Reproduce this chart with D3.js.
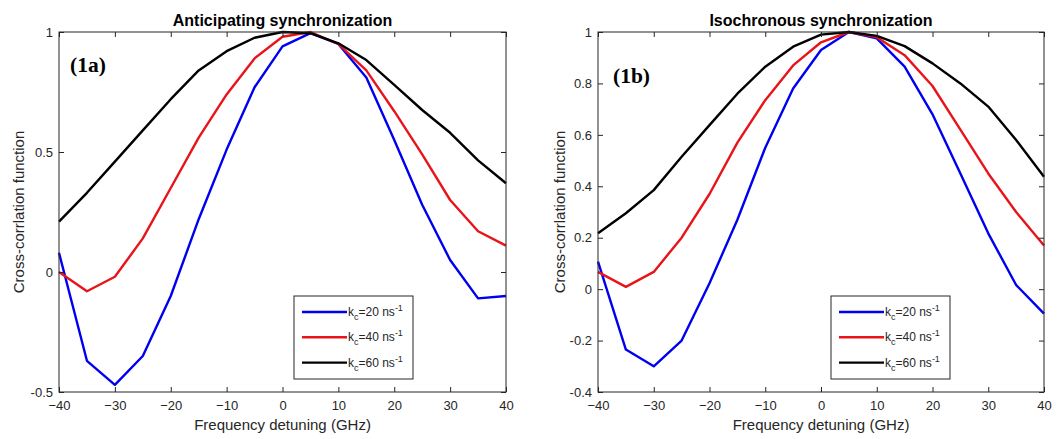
<!DOCTYPE html>
<html>
<head>
<meta charset="utf-8">
<script src="https://cdn.jsdelivr.net/npm/d3@7"></script>
<style>
  html, body { margin: 0; padding: 0; background: #fff; }
  svg { display: block; font-family: "Liberation Sans", Arial, sans-serif; }
</style>
</head>
<body>
<svg id="chart" width="1062" height="439"></svg>
<script>
'use strict';

// frequency detuning (GHz)
const detuning = [-40, -35, -30, -25, -20, -15, -10, -5, 0, 5, 10, 15, 20, 25, 30, 35, 40];

// (1a) anticipating synchronization
const antic20 = [0.08, -0.37, -0.47, -0.35, -0.10, 0.22, 0.51, 0.77, 0.94, 0.995, 0.95, 0.81, 0.55, 0.28, 0.05, -0.11, -0.10];
const antic40 = [0.00, -0.08, -0.02, 0.14, 0.35, 0.56, 0.74, 0.89, 0.98, 1.00, 0.95, 0.84, 0.67, 0.49, 0.30, 0.17, 0.11];
const antic60 = [0.21, 0.33, 0.46, 0.59, 0.72, 0.84, 0.92, 0.976, 1.00, 0.995, 0.953, 0.883, 0.78, 0.675, 0.58, 0.465, 0.37];

// (1b) isochronous synchronization
const iso20 = [0.107, -0.235, -0.30, -0.20, 0.023, 0.27, 0.55, 0.78, 0.93, 1.00, 0.975, 0.865, 0.68, 0.45, 0.217, 0.016, -0.095];
const iso40 = [0.067, 0.009, 0.067, 0.20, 0.37, 0.57, 0.735, 0.87, 0.96, 1.00, 0.98, 0.91, 0.79, 0.62, 0.45, 0.30, 0.17];
const iso60 = [0.217, 0.295, 0.385, 0.515, 0.638, 0.76, 0.865, 0.943, 0.99, 1.00, 0.985, 0.945, 0.878, 0.80, 0.71, 0.58, 0.437];

const xTicks = [-40, -30, -20, -10, 0, 10, 20, 30, 40];
const yTicksA = [-0.5, 0, 0.5, 1];
const yTicksB = [-0.4, -0.2, 0, 0.2, 0.4, 0.6, 0.8, 1];
const couplings = ['20', '40', '60'];
const seriesColors = ['#0000f0', '#e8141a', '#000000'];

const axisColor = '#262626';
const svg = d3.select('#chart');

function drawPanel(opts) {
  const x = d3.scaleLinear().domain([-40, 40]).range([opts.left, opts.right]);
  const y = d3.scaleLinear().domain(opts.yDomain).range([opts.bottom, opts.top]);
  const g = svg.append('g');
  const tickLen = 5;

  // series lines
  const line = d3.line()
    .x(function (d) { return x(d[0]); })
    .y(function (d) { return y(d[1]); });
  opts.series.forEach(function (vals, i) {
    g.append('path')
      .datum(detuning.map(function (f, j) { return [f, vals[j]]; }))
      .attr('fill', 'none')
      .attr('stroke', seriesColors[i])
      .attr('stroke-width', 2.4)
      .attr('stroke-linejoin', 'round')
      .attr('d', line);
  });

  // axes: ticks pointing inward on all four sides
  g.append('g')
    .attr('transform', 'translate(0,' + opts.bottom + ')')
    .call(d3.axisBottom(x).tickValues(xTicks).tickSizeInner(-tickLen).tickSizeOuter(0).tickPadding(9).tickFormat(d3.format('d')));
  g.append('g')
    .attr('transform', 'translate(0,' + opts.top + ')')
    .call(d3.axisTop(x).tickValues(xTicks).tickSizeInner(-tickLen).tickSizeOuter(0).tickFormat(''));
  g.append('g')
    .attr('transform', 'translate(' + opts.left + ',0)')
    .call(d3.axisLeft(y).tickValues(opts.yTicks).tickSizeInner(-tickLen).tickSizeOuter(0).tickPadding(6).tickFormat(function (d) { return String(+d.toFixed(1)); }));
  g.append('g')
    .attr('transform', 'translate(' + opts.right + ',0)')
    .call(d3.axisRight(y).tickValues(opts.yTicks).tickSizeInner(-tickLen).tickSizeOuter(0).tickFormat(''));
  g.selectAll('.domain').remove();
  g.selectAll('.tick line').attr('stroke', axisColor);
  g.selectAll('.tick text').attr('fill', axisColor).attr('font-size', 13)
    .attr('font-family', '"Liberation Sans", Arial, sans-serif');

  g.append('rect')
    .attr('x', opts.left).attr('y', opts.top)
    .attr('width', opts.right - opts.left).attr('height', opts.bottom - opts.top)
    .attr('fill', 'none').attr('stroke', axisColor).attr('stroke-width', 1);

  // title and labels
  g.append('text')
    .attr('x', (opts.left + opts.right) / 2).attr('y', 26)
    .attr('text-anchor', 'middle').attr('font-size', 16).attr('font-weight', 'bold')
    .attr('fill', '#000').text(opts.title);
  g.append('text')
    .attr('x', (opts.left + opts.right) / 2).attr('y', 430)
    .attr('text-anchor', 'middle').attr('font-size', 15)
    .attr('fill', axisColor).text('Frequency detuning (GHz)');
  g.append('text')
    .attr('transform', 'translate(' + opts.yLabelX + ',' + ((opts.top + opts.bottom) / 2) + ') rotate(-90)')
    .attr('text-anchor', 'middle').attr('font-size', 15)
    .attr('fill', axisColor).text('Cross-corrlation function');
  g.append('text')
    .attr('x', opts.tagX).attr('y', opts.tagY)
    .attr('font-family', '"Liberation Serif", "Times New Roman", serif')
    .attr('font-weight', 'bold').attr('font-size', 21.5)
    .attr('fill', '#000').text(opts.tag);

  // legend
  const lg = g.append('g').attr('transform', 'translate(' + opts.legendX + ',296)');
  lg.append('rect').attr('width', 119).attr('height', 83)
    .attr('fill', '#fff').attr('stroke', axisColor).attr('stroke-width', 1);
  couplings.forEach(function (k, i) {
    const ly = 16 + i * 25.3;
    lg.append('line')
      .attr('x1', 8).attr('x2', 53).attr('y1', ly).attr('y2', ly)
      .attr('stroke', seriesColors[i]).attr('stroke-width', 2.4);
    const t = lg.append('text').attr('x', 54).attr('y', ly + 4)
      .attr('font-size', 12).attr('fill', axisColor);
    t.append('tspan').text('k');
    t.append('tspan').attr('dy', 4).attr('font-size', 9).text('c');
    t.append('tspan').attr('dy', -4).text('=' + k + ' ns');
    t.append('tspan').attr('dy', -5).attr('font-size', 9).text('-1');
  });
}

drawPanel({
  left: 59, right: 506, top: 32, bottom: 392,
  yDomain: [-0.5, 1], yTicks: yTicksA,
  series: [antic20, antic40, antic60],
  title: 'Anticipating synchronization', tag: '(1a)', tagX: 70, tagY: 72,
  yLabelX: 24, legendX: 294
});

drawPanel({
  left: 598, right: 1044, top: 32, bottom: 392,
  yDomain: [-0.4, 1], yTicks: yTicksB,
  series: [iso20, iso40, iso60],
  title: 'Isochronous synchronization', tag: '(1b)', tagX: 613, tagY: 83,
  yLabelX: 565, legendX: 831
});
</script>
</body>
</html>
